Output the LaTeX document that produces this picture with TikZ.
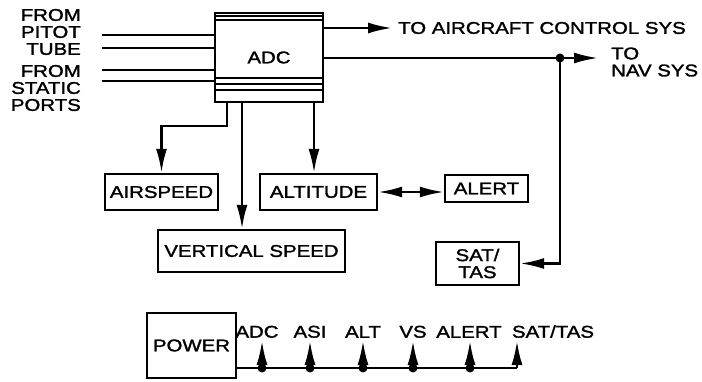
\documentclass[tikz,border=0pt]{standalone}
\usepackage{fontspec}
\setmainfont[FakeStretch=1.2, FakeBold=1.6]{Liberation Sans}
\usetikzlibrary{arrows.meta, positioning, calc}

\begin{document}
\begin{tikzpicture}[x=1pt, y=-1pt, line width=2.4pt,
    box/.style={draw, inner sep=0pt, font=\fontsize{17}{17}\selectfont},
    lbl/.style={inner sep=2pt, font=\fontsize{17}{17}\selectfont},
    arr/.style={-{Latex[length=24pt, width=11pt]}}]
        \useasboundingbox (0,0) rectangle (702,382);

        % Air data computer and its inputs
        \node[box, minimum width=108pt, minimum height=89pt] (adc) at (269,57.5) {ADC};
        \draw[line width=1.6pt] ($(adc.north west)+(0,4.5)$) -- ($(adc.north east)+(0,4.5)$);
        \draw ($(adc.north west)+(0,8.5)$) -- ($(adc.north east)+(0,8.5)$);
        \draw ($(adc.south west)+(0,-25)$) -- ($(adc.south east)+(0,-25)$);
        \draw ($(adc.south west)+(0,-19)$) -- ($(adc.south east)+(0,-19)$);
        \draw ($(adc.south west)+(0,-13)$) -- ($(adc.south east)+(0,-13)$);
        \node[lbl, align=right, anchor=east] (pitot) at (84,32) {FROM\\PITOT\\TUBE};
        \node[lbl, align=right, anchor=east] (static) at (84,88) {FROM\\STATIC\\PORTS};
        \coordinate (in1) at (102,35);
        \coordinate (in2) at (102,48);
        \coordinate (in3) at (102,70);
        \coordinate (in4) at (102,81);
        \foreach \p in {in1, in2, in3, in4}
            \draw (\p) -- (\p -| adc.west);

        % Outputs
        \node[lbl, anchor=west, inner sep=5pt] (acs) at (392,28) {TO AIRCRAFT CONTROL SYS};
        \node[lbl, align=left, anchor=west, inner xsep=12pt] (nav) at (598,62) {TO\\NAV SYS};
        \coordinate (j1) at (560,58);
        \draw[arr] (adc.east |- acs.west) -- (acs.west);
        \draw[arr] (adc.east |- j1) -- (nav.west |- j1);
        \fill (j1) circle (4.5);

        % Indicators
        \node[box, minimum width=113pt, minimum height=36pt] (air) at (161.5,192) {AIRSPEED};
        \node[box, minimum width=117pt, minimum height=36pt] (alt) at (318.5,192) {ALTITUDE};
        \node[box, minimum width=83pt, minimum height=27pt] (alert) at (486.5,188.5) {ALERT};
        \node[box, minimum width=187pt, minimum height=42pt] (vs) at (251.5,251) {VERTICAL SPEED};
        \node[box, minimum width=83pt, minimum height=43pt, align=center] (sat) at (477.5,263.5) {SAT/\\TAS};
        \draw[arr] ([xshift=-42pt]adc.south) -- ++(0,23) -| (air.north);
        \draw[arr] ([xshift=-27pt]adc.south) -- ([xshift=-27pt]adc.south |- vs.north);
        \draw[arr] ([xshift=45pt]adc.south) -- ([xshift=45pt]adc.south |- alt.north);
        \draw[{Latex[length=24pt, width=11pt]}-{Latex[length=24pt, width=11pt]}] (alt.east) -- (alert.west |- alt.east);
        \draw[arr] (j1) |- (sat.east);

        % Power bus
        \node[box, minimum width=89pt, minimum height=65pt] (power) at (191.5,345.5) {POWER};
        \node[lbl, anchor=south] (p1) at (257,341) {ADC};
        \node[lbl, anchor=south] (p2) at (310,341) {ASI};
        \node[lbl, anchor=south] (p3) at (363,341) {ALT};
        \node[lbl, anchor=south] (p4) at (413,341) {VS};
        \node[lbl, anchor=south] (p5) at (469,341) {ALERT};
        \node[lbl, anchor=south] (p6) at (553,341) {SAT/TAS};
        \coordinate (b1) at (262,368);
        \coordinate (b2) at (310,368);
        \coordinate (b3) at (363,368);
        \coordinate (b4) at (413,368);
        \coordinate (b5) at (470,368);
        \coordinate (b6) at (517,368);
        \draw (power.east |- b1) -- (b6);
        \foreach \i in {1,...,6}
            \draw[arr] (b\i) -- (b\i |- p\i.south);
        \foreach \i in {1,...,5}
            \fill (b\i) circle (4.5);
\end{tikzpicture}
\end{document}
